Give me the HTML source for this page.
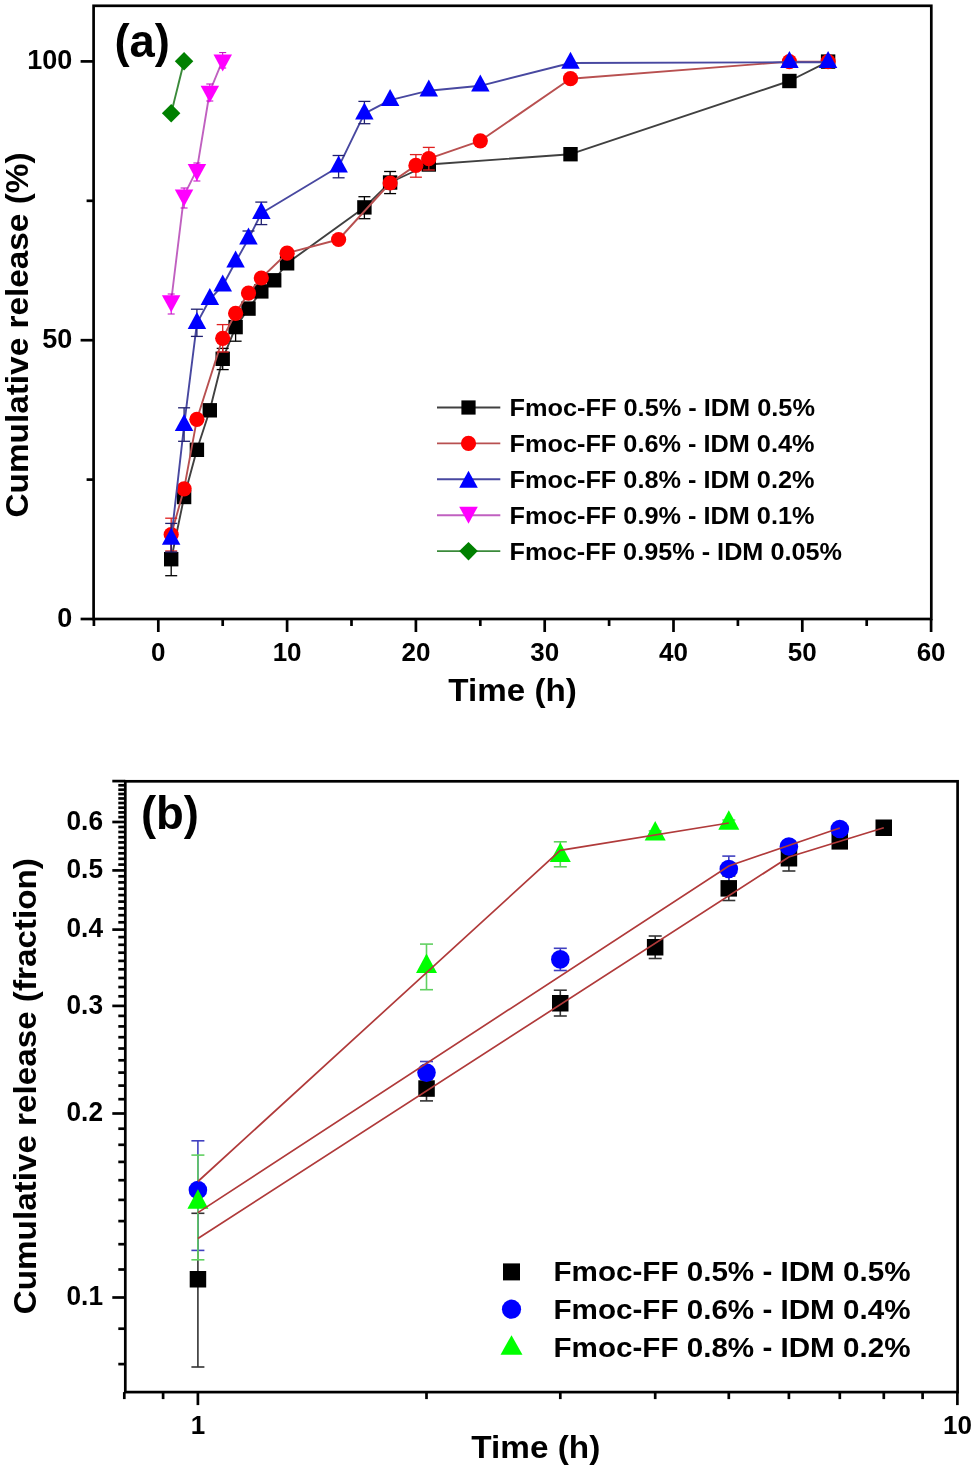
<!DOCTYPE html>
<html><head><meta charset="utf-8"><style>
html,body{margin:0;padding:0;background:#fff;}
svg{display:block;will-change:transform;}
text{font-family:"Liberation Sans",sans-serif;font-weight:bold;fill:#000;}
</style></head><body>
<svg width="975" height="1470" viewBox="0 0 975 1470">
<rect width="975" height="1470" fill="#fff"/>
<rect x="93.6" y="5.8" width="837.6999999999999" height="613.2" fill="none" stroke="#000" stroke-width="2.7"/>
<line x1="93.9" y1="619.0" x2="93.9" y2="626.0" stroke="#000" stroke-width="2.7"/>
<line x1="158.3" y1="619.0" x2="158.3" y2="632.0" stroke="#000" stroke-width="2.7"/>
<line x1="222.7" y1="619.0" x2="222.7" y2="626.0" stroke="#000" stroke-width="2.7"/>
<line x1="287.1" y1="619.0" x2="287.1" y2="632.0" stroke="#000" stroke-width="2.7"/>
<line x1="351.5" y1="619.0" x2="351.5" y2="626.0" stroke="#000" stroke-width="2.7"/>
<line x1="415.9" y1="619.0" x2="415.9" y2="632.0" stroke="#000" stroke-width="2.7"/>
<line x1="480.3" y1="619.0" x2="480.3" y2="626.0" stroke="#000" stroke-width="2.7"/>
<line x1="544.7" y1="619.0" x2="544.7" y2="632.0" stroke="#000" stroke-width="2.7"/>
<line x1="609.1" y1="619.0" x2="609.1" y2="626.0" stroke="#000" stroke-width="2.7"/>
<line x1="673.5" y1="619.0" x2="673.5" y2="632.0" stroke="#000" stroke-width="2.7"/>
<line x1="737.9" y1="619.0" x2="737.9" y2="626.0" stroke="#000" stroke-width="2.7"/>
<line x1="802.3" y1="619.0" x2="802.3" y2="632.0" stroke="#000" stroke-width="2.7"/>
<line x1="866.7" y1="619.0" x2="866.7" y2="626.0" stroke="#000" stroke-width="2.7"/>
<line x1="931.1" y1="619.0" x2="931.1" y2="632.0" stroke="#000" stroke-width="2.7"/>
<line x1="80.6" y1="619.0" x2="93.6" y2="619.0" stroke="#000" stroke-width="2.7"/>
<line x1="86.6" y1="479.6" x2="93.6" y2="479.6" stroke="#000" stroke-width="2.7"/>
<line x1="80.6" y1="340.2" x2="93.6" y2="340.2" stroke="#000" stroke-width="2.7"/>
<line x1="86.6" y1="200.8" x2="93.6" y2="200.8" stroke="#000" stroke-width="2.7"/>
<line x1="80.6" y1="61.4" x2="93.6" y2="61.4" stroke="#000" stroke-width="2.7"/>
<text x="158.3" y="661" font-size="26" text-anchor="middle" font-family="Liberation Sans, sans-serif" font-weight="bold">0</text>
<text x="287.1" y="661" font-size="26" text-anchor="middle" font-family="Liberation Sans, sans-serif" font-weight="bold">10</text>
<text x="415.9" y="661" font-size="26" text-anchor="middle" font-family="Liberation Sans, sans-serif" font-weight="bold">20</text>
<text x="544.7" y="661" font-size="26" text-anchor="middle" font-family="Liberation Sans, sans-serif" font-weight="bold">30</text>
<text x="673.5" y="661" font-size="26" text-anchor="middle" font-family="Liberation Sans, sans-serif" font-weight="bold">40</text>
<text x="802.3" y="661" font-size="26" text-anchor="middle" font-family="Liberation Sans, sans-serif" font-weight="bold">50</text>
<text x="931.1" y="661" font-size="26" text-anchor="middle" font-family="Liberation Sans, sans-serif" font-weight="bold">60</text>
<text x="72.3" y="626.6" font-size="27" text-anchor="end" font-family="Liberation Sans, sans-serif" font-weight="bold">0</text>
<text x="72.3" y="347.8" font-size="27" text-anchor="end" font-family="Liberation Sans, sans-serif" font-weight="bold">50</text>
<text x="72.3" y="69.0" font-size="27" text-anchor="end" font-family="Liberation Sans, sans-serif" font-weight="bold">100</text>
<text x="448.3" y="700.5" font-size="32" textLength="128.5" lengthAdjust="spacingAndGlyphs" font-family="Liberation Sans, sans-serif" font-weight="bold">Time (h)</text>
<text transform="translate(28,517.5) rotate(-90)" x="0" y="0" font-size="32" textLength="365" lengthAdjust="spacingAndGlyphs" font-family="Liberation Sans, sans-serif" font-weight="bold">Cumulative release (%)</text>
<text x="114.5" y="56.5" font-size="46" textLength="55.5" lengthAdjust="spacingAndGlyphs" font-family="Liberation Sans, sans-serif" font-weight="bold">(a)</text>
<polyline points="171.2,559.2 184.1,497.0 196.9,449.8 209.8,410.3 222.7,358.8 235.6,327.1 248.5,308.6 261.3,291.4 274.2,280.3 287.1,263.3 364.4,207.4 390.1,182.5 428.8,164.5 570.5,154.2 789.4,81.0 828.1,61.6" fill="none" stroke="#404040" stroke-width="1.9" stroke-linejoin="round"/>
<line x1="171.2" y1="543.0" x2="171.2" y2="575.7" stroke="#000000" stroke-width="1.3"/><line x1="165.2" y1="543.0" x2="177.2" y2="543.0" stroke="#000000" stroke-width="1.3"/><line x1="165.2" y1="575.7" x2="177.2" y2="575.7" stroke="#000000" stroke-width="1.3"/>
<line x1="222.7" y1="348.4" x2="222.7" y2="369.6" stroke="#000000" stroke-width="1.3"/><line x1="216.7" y1="348.4" x2="228.7" y2="348.4" stroke="#000000" stroke-width="1.3"/><line x1="216.7" y1="369.6" x2="228.7" y2="369.6" stroke="#000000" stroke-width="1.3"/>
<line x1="235.6" y1="313.0" x2="235.6" y2="341.2" stroke="#000000" stroke-width="1.3"/><line x1="229.6" y1="313.0" x2="241.6" y2="313.0" stroke="#000000" stroke-width="1.3"/><line x1="229.6" y1="341.2" x2="241.6" y2="341.2" stroke="#000000" stroke-width="1.3"/>
<line x1="364.4" y1="196.7" x2="364.4" y2="218.7" stroke="#000000" stroke-width="1.3"/><line x1="358.4" y1="196.7" x2="370.4" y2="196.7" stroke="#000000" stroke-width="1.3"/><line x1="358.4" y1="218.7" x2="370.4" y2="218.7" stroke="#000000" stroke-width="1.3"/>
<line x1="390.1" y1="171.5" x2="390.1" y2="193.6" stroke="#000000" stroke-width="1.3"/><line x1="384.1" y1="171.5" x2="396.1" y2="171.5" stroke="#000000" stroke-width="1.3"/><line x1="384.1" y1="193.6" x2="396.1" y2="193.6" stroke="#000000" stroke-width="1.3"/>
<rect x="164.0" y="552.0" width="14.4" height="14.4" fill="#000000"/>
<rect x="176.9" y="489.8" width="14.4" height="14.4" fill="#000000"/>
<rect x="189.7" y="442.6" width="14.4" height="14.4" fill="#000000"/>
<rect x="202.6" y="403.1" width="14.4" height="14.4" fill="#000000"/>
<rect x="215.5" y="351.6" width="14.4" height="14.4" fill="#000000"/>
<rect x="228.4" y="319.9" width="14.4" height="14.4" fill="#000000"/>
<rect x="241.3" y="301.4" width="14.4" height="14.4" fill="#000000"/>
<rect x="254.1" y="284.2" width="14.4" height="14.4" fill="#000000"/>
<rect x="267.0" y="273.1" width="14.4" height="14.4" fill="#000000"/>
<rect x="279.9" y="256.1" width="14.4" height="14.4" fill="#000000"/>
<rect x="357.2" y="200.2" width="14.4" height="14.4" fill="#000000"/>
<rect x="382.9" y="175.3" width="14.4" height="14.4" fill="#000000"/>
<rect x="421.6" y="157.3" width="14.4" height="14.4" fill="#000000"/>
<rect x="563.3" y="147.0" width="14.4" height="14.4" fill="#000000"/>
<rect x="782.2" y="73.8" width="14.4" height="14.4" fill="#000000"/>
<rect x="820.9" y="54.4" width="14.4" height="14.4" fill="#000000"/>
<polyline points="171.2,534.6 184.1,488.8 196.9,419.3 222.7,338.3 235.6,313.3 248.5,293.1 261.3,278.0 287.1,253.2 338.6,239.5 390.1,183.0 415.9,165.4 428.8,158.7 480.3,140.8 570.5,78.7 789.4,61.6 828.1,61.6" fill="none" stroke="#b85050" stroke-width="1.9" stroke-linejoin="round"/>
<line x1="171.2" y1="518.2" x2="171.2" y2="551.0" stroke="#e02020" stroke-width="1.3"/><line x1="165.2" y1="518.2" x2="177.2" y2="518.2" stroke="#e02020" stroke-width="1.3"/><line x1="165.2" y1="551.0" x2="177.2" y2="551.0" stroke="#e02020" stroke-width="1.3"/>
<line x1="222.7" y1="324.6" x2="222.7" y2="352.0" stroke="#e02020" stroke-width="1.3"/><line x1="216.7" y1="324.6" x2="228.7" y2="324.6" stroke="#e02020" stroke-width="1.3"/><line x1="216.7" y1="352.0" x2="228.7" y2="352.0" stroke="#e02020" stroke-width="1.3"/>
<line x1="415.9" y1="154.6" x2="415.9" y2="177.2" stroke="#e02020" stroke-width="1.3"/><line x1="409.9" y1="154.6" x2="421.9" y2="154.6" stroke="#e02020" stroke-width="1.3"/><line x1="409.9" y1="177.2" x2="421.9" y2="177.2" stroke="#e02020" stroke-width="1.3"/>
<line x1="428.8" y1="147.4" x2="428.8" y2="170.0" stroke="#e02020" stroke-width="1.3"/><line x1="422.8" y1="147.4" x2="434.8" y2="147.4" stroke="#e02020" stroke-width="1.3"/><line x1="422.8" y1="170.0" x2="434.8" y2="170.0" stroke="#e02020" stroke-width="1.3"/>
<circle cx="171.2" cy="534.6" r="7.6" fill="#ff0000"/>
<circle cx="184.1" cy="488.8" r="7.6" fill="#ff0000"/>
<circle cx="196.9" cy="419.3" r="7.6" fill="#ff0000"/>
<circle cx="222.7" cy="338.3" r="7.6" fill="#ff0000"/>
<circle cx="235.6" cy="313.3" r="7.6" fill="#ff0000"/>
<circle cx="248.5" cy="293.1" r="7.6" fill="#ff0000"/>
<circle cx="261.3" cy="278.0" r="7.6" fill="#ff0000"/>
<circle cx="287.1" cy="253.2" r="7.6" fill="#ff0000"/>
<circle cx="338.6" cy="239.5" r="7.6" fill="#ff0000"/>
<circle cx="390.1" cy="183.0" r="7.6" fill="#ff0000"/>
<circle cx="415.9" cy="165.4" r="7.6" fill="#ff0000"/>
<circle cx="428.8" cy="158.7" r="7.6" fill="#ff0000"/>
<circle cx="480.3" cy="140.8" r="7.6" fill="#ff0000"/>
<circle cx="570.5" cy="78.7" r="7.6" fill="#ff0000"/>
<circle cx="789.4" cy="61.6" r="7.6" fill="#ff0000"/>
<circle cx="828.1" cy="61.6" r="7.6" fill="#ff0000"/>
<polyline points="171.2,539.1 184.1,425.4 196.9,323.4 209.8,299.3 222.7,285.7 235.6,261.8 248.5,238.9 261.3,213.3 338.6,166.8 364.4,113.7 390.1,100.2 428.8,90.7 480.3,85.8 570.5,63.0 789.4,62.3 828.1,62.3" fill="none" stroke="#4848a0" stroke-width="1.9" stroke-linejoin="round"/>
<line x1="171.2" y1="523.4" x2="171.2" y2="552.0" stroke="#202070" stroke-width="1.3"/><line x1="165.2" y1="523.4" x2="177.2" y2="523.4" stroke="#202070" stroke-width="1.3"/><line x1="165.2" y1="552.0" x2="177.2" y2="552.0" stroke="#202070" stroke-width="1.3"/>
<line x1="184.1" y1="407.8" x2="184.1" y2="441.3" stroke="#202070" stroke-width="1.3"/><line x1="178.1" y1="407.8" x2="190.1" y2="407.8" stroke="#202070" stroke-width="1.3"/><line x1="178.1" y1="441.3" x2="190.1" y2="441.3" stroke="#202070" stroke-width="1.3"/>
<line x1="196.9" y1="309.2" x2="196.9" y2="336.4" stroke="#202070" stroke-width="1.3"/><line x1="190.9" y1="309.2" x2="202.9" y2="309.2" stroke="#202070" stroke-width="1.3"/><line x1="190.9" y1="336.4" x2="202.9" y2="336.4" stroke="#202070" stroke-width="1.3"/>
<line x1="248.5" y1="231.0" x2="248.5" y2="243.0" stroke="#202070" stroke-width="1.3"/><line x1="242.5" y1="231.0" x2="254.5" y2="231.0" stroke="#202070" stroke-width="1.3"/><line x1="242.5" y1="243.0" x2="254.5" y2="243.0" stroke="#202070" stroke-width="1.3"/>
<line x1="261.3" y1="202.1" x2="261.3" y2="224.6" stroke="#202070" stroke-width="1.3"/><line x1="255.3" y1="202.1" x2="267.3" y2="202.1" stroke="#202070" stroke-width="1.3"/><line x1="255.3" y1="224.6" x2="267.3" y2="224.6" stroke="#202070" stroke-width="1.3"/>
<line x1="338.6" y1="155.5" x2="338.6" y2="177.8" stroke="#202070" stroke-width="1.3"/><line x1="332.6" y1="155.5" x2="344.6" y2="155.5" stroke="#202070" stroke-width="1.3"/><line x1="332.6" y1="177.8" x2="344.6" y2="177.8" stroke="#202070" stroke-width="1.3"/>
<line x1="364.4" y1="101.4" x2="364.4" y2="123.7" stroke="#202070" stroke-width="1.3"/><line x1="358.4" y1="101.4" x2="370.4" y2="101.4" stroke="#202070" stroke-width="1.3"/><line x1="358.4" y1="123.7" x2="370.4" y2="123.7" stroke="#202070" stroke-width="1.3"/>
<polygon points="171.2,527.8 180.4,544.8 161.9,544.8" fill="#0000ff"/>
<polygon points="184.1,414.1 193.3,431.1 174.8,431.1" fill="#0000ff"/>
<polygon points="196.9,312.1 206.2,329.1 187.7,329.1" fill="#0000ff"/>
<polygon points="209.8,288.0 219.1,305.0 200.6,305.0" fill="#0000ff"/>
<polygon points="222.7,274.4 232.0,291.4 213.5,291.4" fill="#0000ff"/>
<polygon points="235.6,250.5 244.8,267.5 226.3,267.5" fill="#0000ff"/>
<polygon points="248.5,227.6 257.7,244.6 239.2,244.6" fill="#0000ff"/>
<polygon points="261.3,202.0 270.6,219.0 252.1,219.0" fill="#0000ff"/>
<polygon points="338.6,155.5 347.9,172.5 329.4,172.5" fill="#0000ff"/>
<polygon points="364.4,102.4 373.6,119.4 355.1,119.4" fill="#0000ff"/>
<polygon points="390.1,88.9 399.4,105.9 380.9,105.9" fill="#0000ff"/>
<polygon points="428.8,79.4 438.0,96.4 419.5,96.4" fill="#0000ff"/>
<polygon points="480.3,74.5 489.6,91.5 471.1,91.5" fill="#0000ff"/>
<polygon points="570.5,51.7 579.7,68.7 561.2,68.7" fill="#0000ff"/>
<polygon points="789.4,51.0 798.7,68.0 780.2,68.0" fill="#0000ff"/>
<polygon points="828.1,51.0 837.3,68.0 818.8,68.0" fill="#0000ff"/>
<polyline points="171.2,301.0 184.1,195.3 196.9,169.6 209.8,91.5 222.7,60.1" fill="none" stroke="#c060c0" stroke-width="1.9" stroke-linejoin="round"/>
<line x1="171.2" y1="294.0" x2="171.2" y2="314.0" stroke="#c000c0" stroke-width="1.0"/><line x1="167.7" y1="294.0" x2="174.7" y2="294.0" stroke="#c000c0" stroke-width="1.0"/><line x1="167.7" y1="314.0" x2="174.7" y2="314.0" stroke="#c000c0" stroke-width="1.0"/>
<line x1="184.1" y1="188.0" x2="184.1" y2="208.0" stroke="#c000c0" stroke-width="1.0"/><line x1="180.6" y1="188.0" x2="187.6" y2="188.0" stroke="#c000c0" stroke-width="1.0"/><line x1="180.6" y1="208.0" x2="187.6" y2="208.0" stroke="#c000c0" stroke-width="1.0"/>
<line x1="196.9" y1="163.0" x2="196.9" y2="181.0" stroke="#c000c0" stroke-width="1.0"/><line x1="193.4" y1="163.0" x2="200.4" y2="163.0" stroke="#c000c0" stroke-width="1.0"/><line x1="193.4" y1="181.0" x2="200.4" y2="181.0" stroke="#c000c0" stroke-width="1.0"/>
<line x1="209.8" y1="84.0" x2="209.8" y2="101.0" stroke="#c000c0" stroke-width="1.0"/><line x1="206.3" y1="84.0" x2="213.3" y2="84.0" stroke="#c000c0" stroke-width="1.0"/><line x1="206.3" y1="101.0" x2="213.3" y2="101.0" stroke="#c000c0" stroke-width="1.0"/>
<line x1="222.7" y1="52.6" x2="222.7" y2="68.0" stroke="#c000c0" stroke-width="1.0"/><line x1="219.2" y1="52.6" x2="226.2" y2="52.6" stroke="#c000c0" stroke-width="1.0"/><line x1="219.2" y1="68.0" x2="226.2" y2="68.0" stroke="#c000c0" stroke-width="1.0"/>
<polygon points="161.9,295.3 180.4,295.3 171.2,312.3" fill="#ff00ff"/>
<polygon points="174.8,189.6 193.3,189.6 184.1,206.6" fill="#ff00ff"/>
<polygon points="187.7,163.9 206.2,163.9 196.9,180.9" fill="#ff00ff"/>
<polygon points="200.6,85.8 219.1,85.8 209.8,102.8" fill="#ff00ff"/>
<polygon points="213.5,54.4 232.0,54.4 222.7,71.4" fill="#ff00ff"/>
<polyline points="171.2,113.3 184.1,61.3" fill="none" stroke="#3a8a3a" stroke-width="1.9" stroke-linejoin="round"/>
<polygon points="171.2,104.0 180.4,113.3 171.2,122.5 161.9,113.3" fill="#008000"/>
<polygon points="184.1,52.0 193.3,61.3 184.1,70.5 174.8,61.3" fill="#008000"/>
<line x1="437" y1="407.5" x2="500.3" y2="407.5" stroke="#404040" stroke-width="1.9"/>
<rect x="461.4" y="400.4" width="14.2" height="14.2" fill="#000000"/>
<text x="509.5" y="415.9" font-size="24.5" textLength="305.5" lengthAdjust="spacingAndGlyphs" font-family="Liberation Sans, sans-serif" font-weight="bold">Fmoc-FF 0.5% - IDM 0.5%</text>
<line x1="437" y1="443.4" x2="500.3" y2="443.4" stroke="#b85050" stroke-width="1.9"/>
<circle cx="468.5" cy="443.4" r="7.6" fill="#ff0000"/>
<text x="509.5" y="451.8" font-size="24.5" textLength="305" lengthAdjust="spacingAndGlyphs" font-family="Liberation Sans, sans-serif" font-weight="bold">Fmoc-FF 0.6% - IDM 0.4%</text>
<line x1="437" y1="479.3" x2="500.3" y2="479.3" stroke="#4848a0" stroke-width="1.9"/>
<polygon points="468.5,470.8 477.8,487.8 459.2,487.8" fill="#0000ff"/>
<text x="509.5" y="487.7" font-size="24.5" textLength="305" lengthAdjust="spacingAndGlyphs" font-family="Liberation Sans, sans-serif" font-weight="bold">Fmoc-FF 0.8% - IDM 0.2%</text>
<line x1="437" y1="515.2" x2="500.3" y2="515.2" stroke="#c060c0" stroke-width="1.9"/>
<polygon points="459.2,506.7 477.8,506.7 468.5,523.7" fill="#ff00ff"/>
<text x="509.5" y="523.6" font-size="24.5" textLength="305" lengthAdjust="spacingAndGlyphs" font-family="Liberation Sans, sans-serif" font-weight="bold">Fmoc-FF 0.9% - IDM 0.1%</text>
<line x1="437" y1="551.1" x2="500.3" y2="551.1" stroke="#3a8a3a" stroke-width="1.9"/>
<polygon points="468.5,541.9 477.8,551.1 468.5,560.4 459.2,551.1" fill="#008000"/>
<text x="509.5" y="559.5" font-size="24.5" textLength="332.5" lengthAdjust="spacingAndGlyphs" font-family="Liberation Sans, sans-serif" font-weight="bold">Fmoc-FF 0.95% - IDM 0.05%</text>
<rect x="125.3" y="781.3" width="832.3000000000001" height="610.8" fill="none" stroke="#000" stroke-width="2.7"/>
<line x1="118.3" y1="1364.1" x2="125.3" y2="1364.1" stroke="#000" stroke-width="2.7"/>
<line x1="118.3" y1="1328.7" x2="125.3" y2="1328.7" stroke="#000" stroke-width="2.7"/>
<line x1="112.3" y1="1297.5" x2="125.3" y2="1297.5" stroke="#000" stroke-width="2.7"/>
<line x1="118.3" y1="1269.5" x2="125.3" y2="1269.5" stroke="#000" stroke-width="2.7"/>
<line x1="118.3" y1="1244.2" x2="125.3" y2="1244.2" stroke="#000" stroke-width="2.7"/>
<line x1="118.3" y1="1221.1" x2="125.3" y2="1221.1" stroke="#000" stroke-width="2.7"/>
<line x1="118.3" y1="1199.9" x2="125.3" y2="1199.9" stroke="#000" stroke-width="2.7"/>
<line x1="118.3" y1="1180.2" x2="125.3" y2="1180.2" stroke="#000" stroke-width="2.7"/>
<line x1="118.3" y1="1161.9" x2="125.3" y2="1161.9" stroke="#000" stroke-width="2.7"/>
<line x1="118.3" y1="1144.8" x2="125.3" y2="1144.8" stroke="#000" stroke-width="2.7"/>
<line x1="118.3" y1="1128.7" x2="125.3" y2="1128.7" stroke="#000" stroke-width="2.7"/>
<line x1="112.3" y1="1113.5" x2="125.3" y2="1113.5" stroke="#000" stroke-width="2.7"/>
<line x1="118.3" y1="1099.2" x2="125.3" y2="1099.2" stroke="#000" stroke-width="2.7"/>
<line x1="118.3" y1="1085.6" x2="125.3" y2="1085.6" stroke="#000" stroke-width="2.7"/>
<line x1="118.3" y1="1072.6" x2="125.3" y2="1072.6" stroke="#000" stroke-width="2.7"/>
<line x1="118.3" y1="1060.3" x2="125.3" y2="1060.3" stroke="#000" stroke-width="2.7"/>
<line x1="118.3" y1="1048.5" x2="125.3" y2="1048.5" stroke="#000" stroke-width="2.7"/>
<line x1="118.3" y1="1037.2" x2="125.3" y2="1037.2" stroke="#000" stroke-width="2.7"/>
<line x1="118.3" y1="1026.4" x2="125.3" y2="1026.4" stroke="#000" stroke-width="2.7"/>
<line x1="118.3" y1="1015.9" x2="125.3" y2="1015.9" stroke="#000" stroke-width="2.7"/>
<line x1="112.3" y1="1005.9" x2="125.3" y2="1005.9" stroke="#000" stroke-width="2.7"/>
<line x1="118.3" y1="996.3" x2="125.3" y2="996.3" stroke="#000" stroke-width="2.7"/>
<line x1="118.3" y1="987.0" x2="125.3" y2="987.0" stroke="#000" stroke-width="2.7"/>
<line x1="118.3" y1="978.0" x2="125.3" y2="978.0" stroke="#000" stroke-width="2.7"/>
<line x1="118.3" y1="969.3" x2="125.3" y2="969.3" stroke="#000" stroke-width="2.7"/>
<line x1="118.3" y1="960.9" x2="125.3" y2="960.9" stroke="#000" stroke-width="2.7"/>
<line x1="118.3" y1="952.7" x2="125.3" y2="952.7" stroke="#000" stroke-width="2.7"/>
<line x1="118.3" y1="944.8" x2="125.3" y2="944.8" stroke="#000" stroke-width="2.7"/>
<line x1="118.3" y1="937.1" x2="125.3" y2="937.1" stroke="#000" stroke-width="2.7"/>
<line x1="112.3" y1="929.6" x2="125.3" y2="929.6" stroke="#000" stroke-width="2.7"/>
<line x1="118.3" y1="922.3" x2="125.3" y2="922.3" stroke="#000" stroke-width="2.7"/>
<line x1="118.3" y1="915.2" x2="125.3" y2="915.2" stroke="#000" stroke-width="2.7"/>
<line x1="118.3" y1="908.4" x2="125.3" y2="908.4" stroke="#000" stroke-width="2.7"/>
<line x1="118.3" y1="901.6" x2="125.3" y2="901.6" stroke="#000" stroke-width="2.7"/>
<line x1="118.3" y1="895.1" x2="125.3" y2="895.1" stroke="#000" stroke-width="2.7"/>
<line x1="118.3" y1="888.7" x2="125.3" y2="888.7" stroke="#000" stroke-width="2.7"/>
<line x1="118.3" y1="882.4" x2="125.3" y2="882.4" stroke="#000" stroke-width="2.7"/>
<line x1="118.3" y1="876.3" x2="125.3" y2="876.3" stroke="#000" stroke-width="2.7"/>
<line x1="112.3" y1="870.4" x2="125.3" y2="870.4" stroke="#000" stroke-width="2.7"/>
<line x1="118.3" y1="864.6" x2="125.3" y2="864.6" stroke="#000" stroke-width="2.7"/>
<line x1="118.3" y1="858.8" x2="125.3" y2="858.8" stroke="#000" stroke-width="2.7"/>
<line x1="118.3" y1="853.3" x2="125.3" y2="853.3" stroke="#000" stroke-width="2.7"/>
<line x1="118.3" y1="847.8" x2="125.3" y2="847.8" stroke="#000" stroke-width="2.7"/>
<line x1="118.3" y1="842.4" x2="125.3" y2="842.4" stroke="#000" stroke-width="2.7"/>
<line x1="118.3" y1="837.2" x2="125.3" y2="837.2" stroke="#000" stroke-width="2.7"/>
<line x1="118.3" y1="832.0" x2="125.3" y2="832.0" stroke="#000" stroke-width="2.7"/>
<line x1="118.3" y1="827.0" x2="125.3" y2="827.0" stroke="#000" stroke-width="2.7"/>
<line x1="112.3" y1="822.0" x2="125.3" y2="822.0" stroke="#000" stroke-width="2.7"/>
<line x1="118.3" y1="817.1" x2="125.3" y2="817.1" stroke="#000" stroke-width="2.7"/>
<line x1="118.3" y1="812.4" x2="125.3" y2="812.4" stroke="#000" stroke-width="2.7"/>
<line x1="118.3" y1="807.7" x2="125.3" y2="807.7" stroke="#000" stroke-width="2.7"/>
<line x1="118.3" y1="803.0" x2="125.3" y2="803.0" stroke="#000" stroke-width="2.7"/>
<line x1="118.3" y1="798.5" x2="125.3" y2="798.5" stroke="#000" stroke-width="2.7"/>
<line x1="118.3" y1="794.0" x2="125.3" y2="794.0" stroke="#000" stroke-width="2.7"/>
<line x1="118.3" y1="789.7" x2="125.3" y2="789.7" stroke="#000" stroke-width="2.7"/>
<line x1="118.3" y1="785.3" x2="125.3" y2="785.3" stroke="#000" stroke-width="2.7"/>
<line x1="112.3" y1="781.1" x2="125.3" y2="781.1" stroke="#000" stroke-width="2.7"/>
<line x1="124.3" y1="1392.1" x2="124.3" y2="1399.1" stroke="#000" stroke-width="2.7"/>
<line x1="163.1" y1="1392.1" x2="163.1" y2="1399.1" stroke="#000" stroke-width="2.7"/>
<line x1="197.9" y1="1392.1" x2="197.9" y2="1405.1" stroke="#000" stroke-width="2.7"/>
<line x1="426.5" y1="1392.1" x2="426.5" y2="1399.1" stroke="#000" stroke-width="2.7"/>
<line x1="560.3" y1="1392.1" x2="560.3" y2="1399.1" stroke="#000" stroke-width="2.7"/>
<line x1="655.2" y1="1392.1" x2="655.2" y2="1399.1" stroke="#000" stroke-width="2.7"/>
<line x1="728.8" y1="1392.1" x2="728.8" y2="1399.1" stroke="#000" stroke-width="2.7"/>
<line x1="788.9" y1="1392.1" x2="788.9" y2="1399.1" stroke="#000" stroke-width="2.7"/>
<line x1="839.8" y1="1392.1" x2="839.8" y2="1399.1" stroke="#000" stroke-width="2.7"/>
<line x1="883.8" y1="1392.1" x2="883.8" y2="1399.1" stroke="#000" stroke-width="2.7"/>
<line x1="922.6" y1="1392.1" x2="922.6" y2="1399.1" stroke="#000" stroke-width="2.7"/>
<line x1="957.4" y1="1392.1" x2="957.4" y2="1405.1" stroke="#000" stroke-width="2.7"/>
<text x="103.0" y="1305.3" font-size="27" text-anchor="end" textLength="36.5" lengthAdjust="spacingAndGlyphs" font-family="Liberation Sans, sans-serif" font-weight="bold">0.1</text>
<text x="103.0" y="1121.3" font-size="27" text-anchor="end" textLength="36.5" lengthAdjust="spacingAndGlyphs" font-family="Liberation Sans, sans-serif" font-weight="bold">0.2</text>
<text x="103.0" y="1013.7" font-size="27" text-anchor="end" textLength="36.5" lengthAdjust="spacingAndGlyphs" font-family="Liberation Sans, sans-serif" font-weight="bold">0.3</text>
<text x="103.0" y="937.4" font-size="27" text-anchor="end" textLength="36.5" lengthAdjust="spacingAndGlyphs" font-family="Liberation Sans, sans-serif" font-weight="bold">0.4</text>
<text x="103.0" y="878.2" font-size="27" text-anchor="end" textLength="36.5" lengthAdjust="spacingAndGlyphs" font-family="Liberation Sans, sans-serif" font-weight="bold">0.5</text>
<text x="103.0" y="829.8" font-size="27" text-anchor="end" textLength="36.5" lengthAdjust="spacingAndGlyphs" font-family="Liberation Sans, sans-serif" font-weight="bold">0.6</text>
<text x="197.9" y="1434" font-size="26" text-anchor="middle" font-family="Liberation Sans, sans-serif" font-weight="bold">1</text>
<text x="957.4" y="1434" font-size="26" text-anchor="middle" font-family="Liberation Sans, sans-serif" font-weight="bold">10</text>
<text x="471.3" y="1458.4" font-size="32" textLength="129" lengthAdjust="spacingAndGlyphs" font-family="Liberation Sans, sans-serif" font-weight="bold">Time (h)</text>
<text transform="translate(35.5,1314.2) rotate(-90)" x="0" y="0" font-size="32" textLength="456" lengthAdjust="spacingAndGlyphs" font-family="Liberation Sans, sans-serif" font-weight="bold">Cumulative release (fraction)</text>
<text x="141" y="829" font-size="46" textLength="58" lengthAdjust="spacingAndGlyphs" font-family="Liberation Sans, sans-serif" font-weight="bold">(b)</text>
<line x1="197.9" y1="1213.3" x2="197.9" y2="1367.0" stroke="#333333" stroke-width="1.6"/><line x1="191.4" y1="1213.3" x2="204.4" y2="1213.3" stroke="#333333" stroke-width="1.6"/><line x1="191.4" y1="1367.0" x2="204.4" y2="1367.0" stroke="#333333" stroke-width="1.6"/>
<line x1="426.5" y1="1076.0" x2="426.5" y2="1100.9" stroke="#333333" stroke-width="1.6"/><line x1="420.0" y1="1076.0" x2="433.0" y2="1076.0" stroke="#333333" stroke-width="1.6"/><line x1="420.0" y1="1100.9" x2="433.0" y2="1100.9" stroke="#333333" stroke-width="1.6"/>
<line x1="560.3" y1="990.2" x2="560.3" y2="1016.0" stroke="#333333" stroke-width="1.6"/><line x1="553.8" y1="990.2" x2="566.8" y2="990.2" stroke="#333333" stroke-width="1.6"/><line x1="553.8" y1="1016.0" x2="566.8" y2="1016.0" stroke="#333333" stroke-width="1.6"/>
<line x1="655.2" y1="936.0" x2="655.2" y2="958.5" stroke="#333333" stroke-width="1.6"/><line x1="648.7" y1="936.0" x2="661.7" y2="936.0" stroke="#333333" stroke-width="1.6"/><line x1="648.7" y1="958.5" x2="661.7" y2="958.5" stroke="#333333" stroke-width="1.6"/>
<line x1="728.8" y1="876.0" x2="728.8" y2="900.5" stroke="#333333" stroke-width="1.6"/><line x1="722.3" y1="876.0" x2="735.3" y2="876.0" stroke="#333333" stroke-width="1.6"/><line x1="722.3" y1="900.5" x2="735.3" y2="900.5" stroke="#333333" stroke-width="1.6"/>
<line x1="788.9" y1="845.0" x2="788.9" y2="871.0" stroke="#333333" stroke-width="1.6"/><line x1="782.4" y1="845.0" x2="795.4" y2="845.0" stroke="#333333" stroke-width="1.6"/><line x1="782.4" y1="871.0" x2="795.4" y2="871.0" stroke="#333333" stroke-width="1.6"/>
<line x1="197.9" y1="1140.8" x2="197.9" y2="1250.4" stroke="#4040c0" stroke-width="1.6"/><line x1="191.4" y1="1140.8" x2="204.4" y2="1140.8" stroke="#4040c0" stroke-width="1.6"/><line x1="191.4" y1="1250.4" x2="204.4" y2="1250.4" stroke="#4040c0" stroke-width="1.6"/>
<line x1="426.5" y1="1061.5" x2="426.5" y2="1084.0" stroke="#4040c0" stroke-width="1.6"/><line x1="420.0" y1="1061.5" x2="433.0" y2="1061.5" stroke="#4040c0" stroke-width="1.6"/><line x1="420.0" y1="1084.0" x2="433.0" y2="1084.0" stroke="#4040c0" stroke-width="1.6"/>
<line x1="560.3" y1="948.3" x2="560.3" y2="970.5" stroke="#4040c0" stroke-width="1.6"/><line x1="553.8" y1="948.3" x2="566.8" y2="948.3" stroke="#4040c0" stroke-width="1.6"/><line x1="553.8" y1="970.5" x2="566.8" y2="970.5" stroke="#4040c0" stroke-width="1.6"/>
<line x1="728.8" y1="856.1" x2="728.8" y2="882.0" stroke="#4040c0" stroke-width="1.6"/><line x1="722.3" y1="856.1" x2="735.3" y2="856.1" stroke="#4040c0" stroke-width="1.6"/><line x1="722.3" y1="882.0" x2="735.3" y2="882.0" stroke="#4040c0" stroke-width="1.6"/>
<line x1="197.9" y1="1155.1" x2="197.9" y2="1259.8" stroke="#60d060" stroke-width="1.6"/><line x1="191.4" y1="1155.1" x2="204.4" y2="1155.1" stroke="#60d060" stroke-width="1.6"/><line x1="191.4" y1="1259.8" x2="204.4" y2="1259.8" stroke="#60d060" stroke-width="1.6"/>
<line x1="426.5" y1="944.1" x2="426.5" y2="989.7" stroke="#60d060" stroke-width="1.6"/><line x1="420.0" y1="944.1" x2="433.0" y2="944.1" stroke="#60d060" stroke-width="1.6"/><line x1="420.0" y1="989.7" x2="433.0" y2="989.7" stroke="#60d060" stroke-width="1.6"/>
<line x1="560.3" y1="841.8" x2="560.3" y2="866.8" stroke="#60d060" stroke-width="1.6"/><line x1="553.8" y1="841.8" x2="566.8" y2="841.8" stroke="#60d060" stroke-width="1.6"/><line x1="553.8" y1="866.8" x2="566.8" y2="866.8" stroke="#60d060" stroke-width="1.6"/>
<line x1="655.2" y1="830.9" x2="655.2" y2="838.5" stroke="#60d060" stroke-width="1.6"/><line x1="648.7" y1="830.9" x2="661.7" y2="830.9" stroke="#60d060" stroke-width="1.6"/><line x1="648.7" y1="838.5" x2="661.7" y2="838.5" stroke="#60d060" stroke-width="1.6"/>
<line x1="728.8" y1="820.0" x2="728.8" y2="827.5" stroke="#60d060" stroke-width="1.6"/><line x1="722.3" y1="820.0" x2="735.3" y2="820.0" stroke="#60d060" stroke-width="1.6"/><line x1="722.3" y1="827.5" x2="735.3" y2="827.5" stroke="#60d060" stroke-width="1.6"/>
<rect x="189.7" y="1271.0" width="16.5" height="16.5" fill="#000000"/>
<rect x="418.3" y="1080.3" width="16.5" height="16.5" fill="#000000"/>
<rect x="552.0" y="995.0" width="16.5" height="16.5" fill="#000000"/>
<rect x="646.9" y="939.0" width="16.5" height="16.5" fill="#000000"/>
<rect x="720.5" y="880.1" width="16.5" height="16.5" fill="#000000"/>
<rect x="780.7" y="850.0" width="16.5" height="16.5" fill="#000000"/>
<rect x="831.5" y="833.1" width="16.5" height="16.5" fill="#000000"/>
<rect x="875.5" y="819.5" width="16.5" height="16.5" fill="#000000"/>
<circle cx="197.9" cy="1190.0" r="9.3" fill="#0000ff"/>
<circle cx="426.5" cy="1072.6" r="9.3" fill="#0000ff"/>
<circle cx="560.3" cy="959.4" r="9.3" fill="#0000ff"/>
<circle cx="728.8" cy="869.0" r="9.3" fill="#0000ff"/>
<circle cx="788.9" cy="846.5" r="9.3" fill="#0000ff"/>
<circle cx="839.8" cy="829.0" r="9.3" fill="#0000ff"/>
<polygon points="197.9,1189.2 208.4,1208.8 187.4,1208.8" fill="#00ff00"/>
<polygon points="426.5,953.4 437.0,972.9 416.0,972.9" fill="#00ff00"/>
<polygon points="560.3,842.6 570.8,862.1 549.8,862.1" fill="#00ff00"/>
<polygon points="655.2,821.1 665.7,840.6 644.7,840.6" fill="#00ff00"/>
<polygon points="728.8,810.2 739.3,829.8 718.3,829.8" fill="#00ff00"/>
<polyline points="197.9,1181.5 560.3,850.4 728.8,823.0" fill="none" stroke="#b03a3a" stroke-width="1.7"/>
<polyline points="197.9,1212.6 728.8,866.0 839.8,828.0" fill="none" stroke="#b03a3a" stroke-width="1.7"/>
<polyline points="197.9,1238.5 788.9,857.0 883.8,827.8" fill="none" stroke="#b03a3a" stroke-width="1.7"/>
<rect x="503.0" y="1263.4" width="17" height="17" fill="#000000"/>
<text x="553.5" y="1281" font-size="28.5" textLength="357" lengthAdjust="spacingAndGlyphs" font-family="Liberation Sans, sans-serif" font-weight="bold">Fmoc-FF 0.5% - IDM 0.5%</text>
<circle cx="511.5" cy="1309.2" r="9.6" fill="#0000ff"/>
<text x="553.5" y="1319" font-size="28.5" textLength="357" lengthAdjust="spacingAndGlyphs" font-family="Liberation Sans, sans-serif" font-weight="bold">Fmoc-FF 0.6% - IDM 0.4%</text>
<polygon points="511.5,1335.2 522.5,1354.8 500.5,1354.8" fill="#00ff00"/>
<text x="553.5" y="1357" font-size="28.5" textLength="357" lengthAdjust="spacingAndGlyphs" font-family="Liberation Sans, sans-serif" font-weight="bold">Fmoc-FF 0.8% - IDM 0.2%</text>
</svg></body></html>
